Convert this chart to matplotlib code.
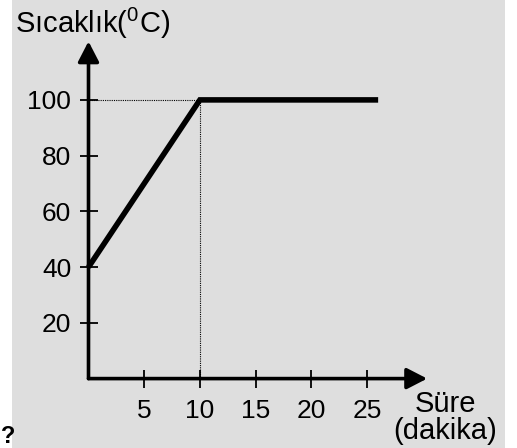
import matplotlib.pyplot as plt
from matplotlib.patches import Rectangle

plt.rcParams["font.family"] = ["Liberation Sans", "DejaVu Sans"]
plt.rcParams["mathtext.fontset"] = "custom"
plt.rcParams["mathtext.rm"] = "Liberation Sans"
plt.rcParams["mathtext.it"] = "Liberation Sans"

# heating curve
time_min = [0, 10, 26]
temp_c = [40, 100, 100]
x_ticks = [5, 10, 15, 20, 25]
y_ticks = [20, 40, 60, 80, 100]
boil_time = 10
boil_temp = 100

W, H = 517, 448
fig = plt.figure(figsize=(W / 100, H / 100), dpi=100, facecolor="white")
fig.patches.append(Rectangle((12 / W, 0), (505 - 12) / W, 1, transform=fig.transFigure,
                             facecolor="#dedede", edgecolor="none", zorder=-10))

# axes placed so x=0 at 88px, y=0 at 378.6px from top
xpx, ypx = 11.14, 2.787
xmax, ymax = 31, 122
ax = fig.add_axes([88.5 / W, (H - 378.6) / H, xmax * xpx / W, ymax * ypx / H])
ax.set_facecolor("none")
ax.set_xlim(0, xmax)
ax.set_ylim(0, ymax)
for s in ax.spines.values():
    s.set_visible(False)

# axes with arrows
arrow = dict(arrowstyle="-|>,head_length=0.62,head_width=0.32", lw=2.6, color="black",
             shrinkA=0, shrinkB=0, mutation_scale=20)
ax.annotate("", xy=(30.4, 0), xytext=(0, 0), arrowprops=arrow, annotation_clip=False)
ax.annotate("", xy=(0, 121), xytext=(0, 0), arrowprops=arrow, annotation_clip=False)

ax.set_xticks(x_ticks)
ax.set_yticks(y_ticks)
ax.tick_params(direction="inout", length=13, width=1.3, labelsize=19)
ax.tick_params(axis="x", pad=8)
ax.tick_params(axis="y", pad=6)

# dotted guides
ax.plot([0, boil_time], [boil_temp, boil_temp], color="black", lw=0.8, ls=(0, (1, 1)))
ax.plot([boil_time, boil_time], [0, boil_temp], color="black", lw=0.8, ls=(0, (1, 1)))

ax.plot(time_min, temp_c, color="black", lw=4, solid_joinstyle="miter",
        solid_capstyle="butt", clip_on=False)

fig.text(15 / W, 1 - 33 / H, r"Sıcaklık($^0$C)", fontsize=21, va="baseline", ha="left")
fig.text(445 / W, 1 - 412 / H, "Süre", fontsize=21, va="baseline", ha="center")
fig.text(445 / W, 1 - 439 / H, "(dakika)", fontsize=21, va="baseline", ha="center")
fig.text(1 / W, 1 - 443 / H, "?", fontsize=17, fontweight="bold", va="baseline", ha="left")

fig.savefig("out.png", dpi=100, facecolor="white")
